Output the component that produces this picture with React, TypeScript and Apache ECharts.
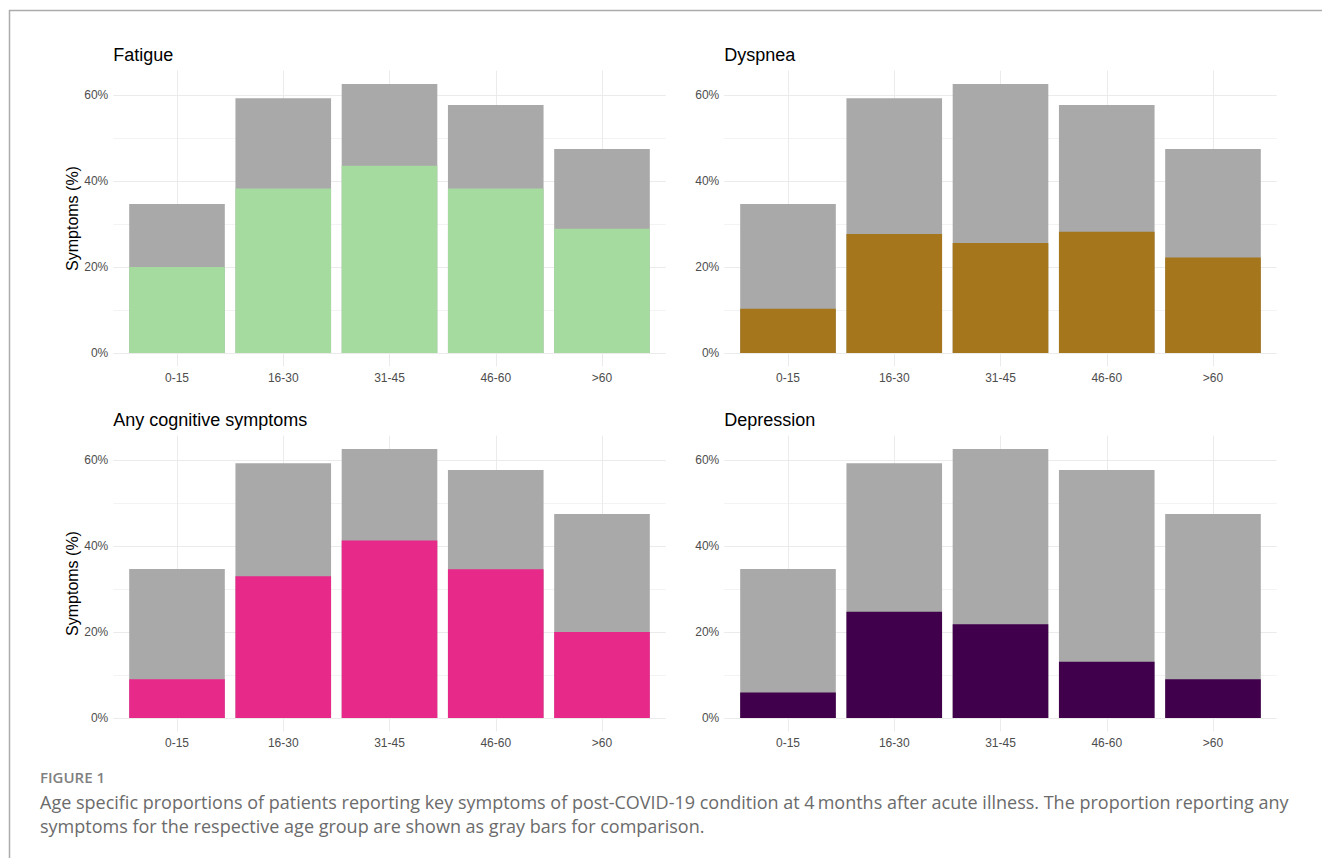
import React, { useEffect, useRef } from "react";
import * as echarts from "echarts";

const ageGroups = ["0-15", "16-30", "31-45", "46-60", ">60"];
const anySymptoms = [34.7, 59.3, 62.6, 57.7, 47.5];
const fatigue = [20.0, 38.3, 43.6, 38.3, 28.9];
const dyspnea = [10.3, 27.7, 25.6, 28.2, 22.2];
const cognitive = [9.0, 33.0, 41.3, 34.6, 20.0];
const depression = [5.9, 24.7, 21.8, 13.1, 9.0];

const panelTitles = ["Fatigue", "Dyspnea", "Any cognitive symptoms", "Depression"];
const panelColors = ["#A6DBA0", "#A6761D", "#E7298A", "#40004B"];
const panelValues = [fatigue, dyspnea, cognitive, depression];
const grayColor = "#A9A9A9";
const yLabel = "Symptoms (%)";
const figureLabel = "FIGURE 1";
const captionLines = [
  "Age specific proportions of patients reporting key symptoms of post-COVID-19 condition at 4\u2009months after acute illness. The proportion reporting any",
  "symptoms for the respective age group are shown as gray bars for comparison.",
];

const FONT = "'Liberation Sans', Arial, sans-serif";
const CAP_FONT = "'Open Sans', 'Noto Sans', sans-serif";

export default function App() {
  const ref = useRef<HTMLDivElement>(null);
  useEffect(() => {
    if (!ref.current) return;
    const chart = echarts.init(ref.current, null, { renderer: "svg" });

    const lefts = [113.25, 724.25, 113.25, 724.25];
    const tops = [70.6, 70.6, 435.6, 435.6];
    const gw = 552.5;
    const gh = 295.8;
    const yMax = 62.6 * 1.05;
    const yMin = -62.6 * 0.05;

    const grid = lefts.map((l, i) => ({
      left: l,
      top: tops[i],
      width: gw,
      height: gh,
      containLabel: false,
      outerBoundsMode: "none",
    }));

    const xAxis = lefts.map((_, i) => ({
      type: "value",
      gridIndex: i,
      min: -0.6,
      max: 4.6,
      splitNumber: 5,
      axisLine: { show: false },
      axisTick: { show: false },
      axisLabel: {
        show: true,
        showMinLabel: false,
        showMaxLabel: false,
        margin: 6,
        color: "#4D4D4D",
        fontSize: 12,
        fontFamily: FONT,
        formatter: (v: number) => {
          const r = Math.round(v);
          if (Math.abs(v - r) < 1e-6 && r >= 0 && r < ageGroups.length) return ageGroups[r];
          return "";
        },
      },
      splitLine: {
        show: true,
        showMinLine: false,
        showMaxLine: false,
        lineStyle: { color: "#EBEBEB", width: 1 },
      },
    }));

    const yAxis = lefts.map((_, i) => ({
      type: "value",
      gridIndex: i,
      min: yMin,
      max: yMax,
      splitNumber: 3,
      name: i % 2 === 0 ? yLabel : "",
      nameLocation: "middle",
      nameGap: 33,
      nameTextStyle: { color: "#000000", fontSize: 16, fontFamily: FONT },
      axisLine: { show: false },
      axisTick: { show: false },
      minorTick: { show: false, splitNumber: 2 },
      axisLabel: {
        show: true,
        showMinLabel: false,
        showMaxLabel: false,
        margin: 5,
        color: "#4D4D4D",
        fontSize: 12,
        fontFamily: FONT,
        formatter: (v: number) => {
          const r = Math.round(v);
          if (Math.abs(v - r) < 1e-6 && r % 20 === 0) return Math.abs(r) + "%";
          return "";
        },
      },
      splitLine: {
        show: true,
        showMinLine: false,
        showMaxLine: false,
        lineStyle: { color: "#EBEBEB", width: 1 },
      },
      minorSplitLine: {
        show: true,
        lineStyle: { color: "#F3F3F3", width: 1 },
      },
    }));

    const series: any[] = [];
    panelValues.forEach((vals, i) => {
      series.push({
        type: "bar",
        name: "Any symptoms",
        xAxisIndex: i,
        yAxisIndex: i,
        barWidth: "90%",
        barGap: "-100%",
        itemStyle: { color: grayColor },
        data: anySymptoms.map((v, k) => [k, v]),
        z: 2,
      });
      series.push({
        type: "bar",
        name: panelTitles[i],
        xAxisIndex: i,
        yAxisIndex: i,
        barWidth: "90%",
        barGap: "-100%",
        itemStyle: { color: panelColors[i] },
        data: vals.map((v, k) => [k, v]),
        z: 3,
      });
    });

    const titleY = [55, 55, 420, 420];
    const graphic: any[] = [
      {
        type: "line",
        shape: { x1: 9, y1: 10.5, x2: 1322, y2: 10.5 },
        style: { stroke: "#ABABAB", lineWidth: 1.5 },
      },
      {
        type: "line",
        shape: { x1: 9.5, y1: 10, x2: 9.5, y2: 858 },
        style: { stroke: "#ABABAB", lineWidth: 1.5 },
      },
      ...panelTitles.map((t, i) => ({
        type: "text",
        x: lefts[i],
        y: titleY[i],
        style: {
          text: t,
          fill: "#000000",
          font: `18px ${FONT}`,
          align: "left",
          verticalAlign: "middle",
        },
      })),
      {
        type: "text",
        x: 40,
        y: 777,
        style: {
          text: figureLabel,
          fill: "#808080",
          font: `600 15px ${CAP_FONT}`,
          align: "left",
          verticalAlign: "middle",
        },
      },
      ...captionLines.map((t, i) => ({
        type: "text",
        x: 40,
        y: 802 + i * 24,
        style: {
          text: t,
          fill: "#6B6B6B",
          font: `18px ${CAP_FONT}`,
          align: "left",
          verticalAlign: "middle",
        },
      })),
    ];

    chart.setOption({
      animation: false,
      backgroundColor: "#FFFFFF",
      grid,
      xAxis,
      yAxis,
      series,
      graphic,
    } as any);

    return () => chart.dispose();
  }, []);

  return (
    <div
      ref={ref}
      style={{ position: "fixed", left: 0, top: 0, width: 1322, height: 858, background: "#fff" }}
    />
  );
}
